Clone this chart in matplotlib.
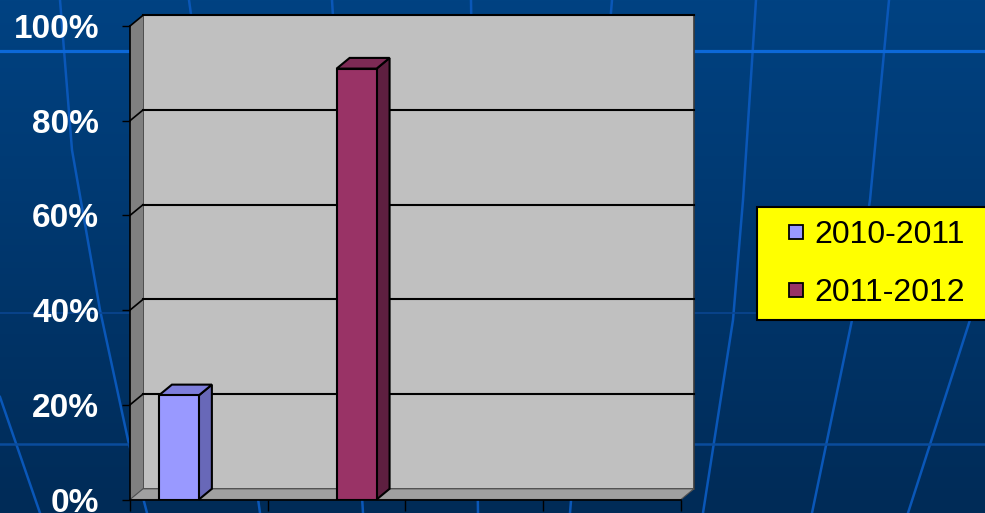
import matplotlib.pyplot as plt
import numpy as np
from matplotlib.patches import Polygon, Rectangle
from matplotlib.lines import Line2D
from matplotlib.transforms import Affine2D, IdentityTransform
from matplotlib.colors import LinearSegmentedColormap

plt.rcParams['font.family'] = ['Liberation Sans', 'DejaVu Sans']

# chart data (4 category slots, names cut off in the source picture)
series_names = ['2010-2011', '2011-2012']
values_2010_2011 = [22, 0, 0, 0]
values_2011_2012 = [0, 91, 0, 0]
y_ticks = [0, 20, 40, 60, 80, 100]

front_colors = ['#9999ff', '#993366']
top_colors = ['#7e7edc', '#7d2a55']
side_colors = ['#6868b8', '#5e1f40']

W, H = 985, 513
fig = plt.figure(figsize=(W / 100, H / 100), dpi=100)

# slide background
bg = fig.add_axes([0, 0, 1, 1], zorder=0)
grad = np.linspace(0, 1, 256).reshape(-1, 1)
cmap = LinearSegmentedColormap.from_list('slide', ['#004282', '#002b57'])
bg.imshow(grad, extent=(0, W, H, 0), aspect='auto', cmap=cmap)
deco = [
    ([0, 40], [397, 513]),
    ([60, 72, 100, 128, 147], [0, 150, 310, 440, 513]),
    ([189, 260], [0, 513]),
    ([332, 363], [0, 513]),
    ([471, 478], [0, 513]),
    ([612, 570], [0, 513]),
    ([756, 743, 733, 703], [0, 200, 320, 513]),
    ([889, 870, 852, 812], [0, 200, 320, 513]),
    ([1015, 985, 970, 908], [0, 250, 320, 513]),
]
for xs, ys in deco:
    bg.plot(xs, ys, color='#0a57b8', lw=1.8)
bg.axhline(51, color='#0c68d8', lw=2.3)
bg.axhline(313, color='#0a4690', lw=1.2)
bg.axhline(444, color='#0a4c9c', lw=1.8)
bg.set_xlim(0, W)
bg.set_ylim(H, 0)
bg.axis('off')

# 3d chart, front plane in pixels
x0, x1, y0, y1 = 130, 681, 499.5, 26
ax = fig.add_axes([x0 / W, (H - y0) / H, (x1 - x0) / W, (y0 - y1) / H], zorder=1)
ax.set_xlim(0, 4)
ax.set_ylim(0, 100)
ax.patch.set_visible(False)
back = ax.transData + Affine2D().translate(13, 10.7)


def face(pts, **kw):
    verts = [(back if b else ax.transData).transform((x, y)) for x, y, b in pts]
    ax.add_patch(Polygon(verts, closed=True, transform=IdentityTransform(),
                         clip_on=False, **kw))


ax.add_patch(Rectangle((0, 0), 4, 100, transform=back, fc='#c0c0c0', ec='#3a3a3a',
                       lw=1.2, clip_on=False, zorder=0.5))
face([(0, 0, 0), (0, 0, 1), (0, 100, 1), (0, 100, 0)], fc='#808080', ec='none', zorder=0.6)
face([(0, 0, 0), (4, 0, 0), (4, 0, 1), (0, 0, 1)], fc='#a0a0a0', ec='#505050', lw=0.8, zorder=0.7)

for t in y_ticks[1:]:
    ax.plot([0, 4], [t, t], transform=back, color='k', lw=1.5, zorder=0.8, clip_on=False)
    p = [ax.transData.transform((0, t)), back.transform((0, t))]
    ax.plot([p[0][0], p[1][0]], [p[0][1], p[1][1]], transform=IdentityTransform(),
            color='k', lw=1.2, zorder=0.8, clip_on=False)

bw = 0.29
for k, vals in enumerate([values_2010_2011, values_2011_2012]):
    vals = np.array(vals, dtype=float)
    xs = np.arange(len(vals)) + 0.5 - bw + k * bw
    keep = vals > 0
    for xl, v in zip(xs[keep], vals[keep]):
        xr = xl + bw
        face([(xr, 0, 0), (xr, v, 0), (xr, v, 1), (xr, 0, 1)],
             fc=side_colors[k], ec='k', lw=1.5, zorder=2.8)
        face([(xl, v, 0), (xr, v, 0), (xr, v, 1), (xl, v, 1)],
             fc=top_colors[k], ec='k', lw=1.5, zorder=2.8)
    ax.bar(xs[keep], vals[keep], bw, align='edge', color=front_colors[k],
           edgecolor='k', lw=1.5, zorder=3)

ax.set_yticks(y_ticks, [f'{t}%' for t in y_ticks])
ax.tick_params(axis='y', length=5.8, width=1, color='k', labelcolor='white',
               labelsize=24, pad=16.5)
for lbl in ax.get_yticklabels():
    lbl.set_fontweight('bold')
ax.set_xticks(range(5))
ax.set_xticklabels([])
ax.tick_params(axis='x', length=8, width=1, color='k')
for s in ['top', 'right']:
    ax.spines[s].set_visible(False)
for s in ['left', 'bottom']:
    ax.spines[s].set_color('k')
    ax.spines[s].set_linewidth(1.2)

# legend box
fig.add_artist(Rectangle((757 / W, (H - 320) / H), (W + 10 - 757) / W, 113 / H,
                         transform=fig.transFigure, fc='#ffff00', ec='k', lw=1.5, zorder=5))
handles = [Line2D([], [], marker='s', ms=9.6, mfc=c, mec='k', mew=1.3, ls='none')
           for c in front_colors]
leg = fig.legend(handles, series_names, loc='upper left',
                 bbox_to_anchor=(788.5 / W, 1 - 220 / H), frameon=False, fontsize=23,
                 handlelength=0.48, handletextpad=0.33, labelspacing=0.88,
                 borderpad=0, borderaxespad=0)
leg.set_zorder(6)

fig.savefig('out.png', dpi=100)
